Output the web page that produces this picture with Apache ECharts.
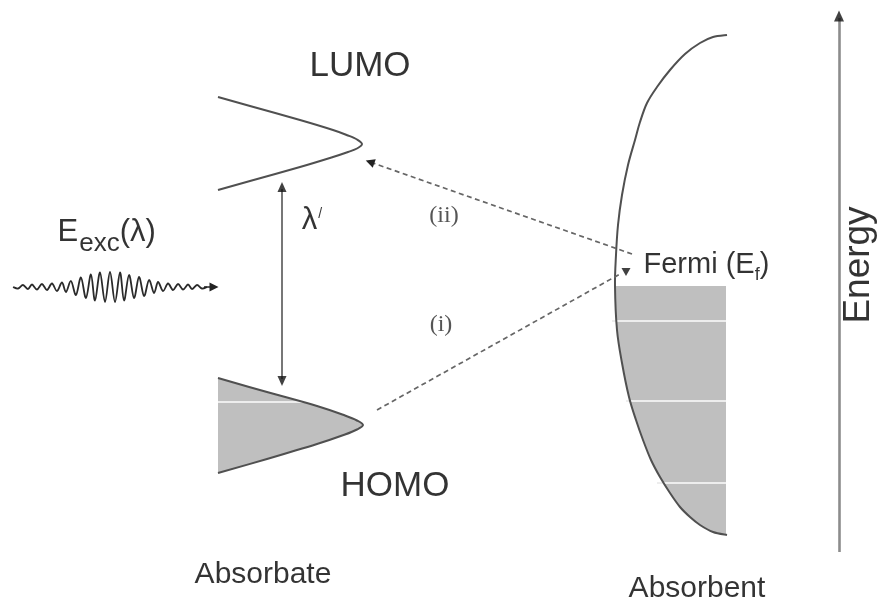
<!DOCTYPE html>
<html><head><meta charset="utf-8">
<script src="https://cdn.jsdelivr.net/npm/echarts@6/dist/echarts.min.js"></script>
<style>html,body{margin:0;padding:0;background:#fff}#c{width:879px;height:601px}</style>
</head><body><div id="c"></div>
<script>
// ---- Diagram geometry (values in the diagram's own x/y units) ----
const lumoCurve = [[218,97],[250,106],[300,120],[333,130],[348,135.5],[357,139.5],[362,144],[357,148.5],[348,152],[333,157],[300,167],[250,181],[218,190]];
const homoCurve = [[218,378],[267,392],[317,406],[345,415.5],[357,420.5],[363,425],[357,429.5],[345,434.5],[317,444],[267,459],[218,473]];
const homoEdge = [[218,473],[218,378]];
const homoStripes = [[[218,402],[303,402]]];
const absorbentCurve = [[727,35],[713,37],[700,43],[685,54],[670,70],[657,87],[647,103],[640,122],[635,140],[628,165],[622,195],[618,225],[616,255],[615,286],[617,330],[622,363],[629,397],[636,420],[643,440],[651,460],[660,477],[670,493],[680,507],[690,517],[700,525],[713,532],[727,535]];
const fermiLevel = 286;
const absorbentRight = 726;
const absorbentStripes = [[[612,321],[726,321]],[[626,401],[726,401]],[[657,483],[726,483]]];
const transitionII = [[632,254],[370,162]];
const transitionI = [[377,410],[620,274]];
const fermiMarker = [626,272];
const gapArrow = [[282,189],[282,379]];
const gapHeads = [[282,187,0],[282,381,180]];
const energyAxis = [[839,552],[839,18]];
const energyHead = [839,16];
const waveX = [13,18,23,28,32,37,42,47,52,57,62,66,71,76,81,86,91,95,100,105,110,115,120,124,129,134,139,144,149,154,158,163,168,173,178,183,188,192,197,202,207];
const waveAmp = [0,1.5,2,2,2.5,2.5,3,3,3.5,4,4.5,5,6,8,9.5,11,12.5,13.5,14.5,15,15,15,14.5,13.5,12,11,10,9,7,6,5,4,3.5,3,3,2.5,2.5,2,2,1.5,0];
const waveBase = 287;
const waveArrow = [[204,287],[214,287]];
const textItems = [
  ['LUMO', 360, 66],
  ['HOMO', 395, 486],
  ['Absorbate', 263, 575],
  ['Absorbent', 697, 589],
  ['Energy', 859, 265],
  ['(ii)', 444, 216],
  ['(i)', 441, 325],
  ['lambda', 312, 220],
  ['Eexc', 58, 217],
  ['Fermi', 644, 251]
];

// ---- styles ----
const INK = '#505050';
const FILL = '#bfbfbf';
const sans = 'Liberation Sans, Arial, sans-serif';
const serif = 'Liberation Serif, Times New Roman, serif';
const labelStyles = {
  'LUMO': {fontSize:35},
  'HOMO': {fontSize:35},
  'Absorbate': {fontSize:30},
  'Absorbent': {fontSize:30},
  'Energy': {fontSize:37, rotate:90},
  '(ii)': {fontSize:24, fontFamily:serif, color:'#2a2a2a'},
  '(i)': {fontSize:24, fontFamily:serif, color:'#2a2a2a'},
  'lambda': {formatter:'{l|λ}{s|/}', rich:{l:{fontSize:31, lineHeight:31, verticalAlign:'top', color:'#000'}, s:{fontSize:14, lineHeight:22, verticalAlign:'top', padding:[3,0,0,1], color:'#000'}}},
  'Eexc': {formatter:'{a|E}{b|exc}{a|(λ)}', position:[0,0], align:'left', verticalAlign:'top',
           rich:{a:{fontSize:31, lineHeight:31, verticalAlign:'top', color:'#000'}, b:{fontSize:26, lineHeight:26, padding:[14,0,0,1], verticalAlign:'top', color:'#000'}}},
  'Fermi': {formatter:'{a|Fermi (E}{b|f}{a|)}', position:[0,0], align:'left', verticalAlign:'top',
           rich:{a:{fontSize:29, lineHeight:29, verticalAlign:'top', color:'#000'}, b:{fontSize:18, lineHeight:18, padding:[16,0,0,0], verticalAlign:'top', color:'#000'}}}
};

function smoothPath(pts) {
  let d = 'M ' + pts[0][0] + ' ' + pts[0][1];
  for (let i = 0; i < pts.length - 1; i++) {
    const p0 = pts[i-1] || pts[i], p1 = pts[i], p2 = pts[i+1], p3 = pts[i+2] || pts[i+1];
    const c1x = p1[0] + (p2[0]-p0[0])/6, c1y = p1[1] + (p2[1]-p0[1])/6;
    const c2x = p2[0] - (p3[0]-p1[0])/6, c2y = p2[1] - (p3[1]-p1[1])/6;
    d += ' C ' + c1x + ' ' + c1y + ' ' + c2x + ' ' + c2y + ' ' + p2[0] + ' ' + p2[1];
  }
  return d;
}
function shapeSeries(points, opt) {
  return {
    type:'custom', coordinateSystem:'cartesian2d', silent:true, animation:false,
    data:[[0,0]], z: opt.z || 2,
    renderItem: function (params, api) {
      const px = points.map(function (p) { return api.coord(p); });
      let d = smoothPath(px);
      if (opt.close) {
        opt.close.forEach(function (p) { const c = api.coord(p); d += ' L ' + c[0] + ' ' + c[1]; });
        d += ' Z';
      }
      return {type:'path', shape:{pathData:d}, style:{fill: opt.fill || 'none', stroke: opt.stroke || 'none', lineWidth: opt.lineWidth || 0, lineJoin:'round'}};
    }
  };
}
function linesSeries(segments, lineStyle, symbol, symbolSize, z) {
  return {type:'lines', coordinateSystem:'cartesian2d', silent:true, animation:false, z: z || 3,
    data: segments.map(function (s) { return {coords: s}; }),
    lineStyle: lineStyle, symbol: symbol || 'none', symbolSize: symbolSize || 0};
}

const wavePoints = waveX.map(function (x, i) { return [x, waveBase + (i % 2 === 0 ? -1 : 1) * waveAmp[i]]; });
const absorbentFill = absorbentCurve.filter(function (p) { return p[1] >= fermiLevel; });

const chart = echarts.init(document.getElementById('c'), null, {renderer:'canvas'});
chart.setOption({
  animation:false,
  backgroundColor:'#ffffff',
  grid:{left:0, right:0, top:0, bottom:0},
  xAxis:{type:'value', min:0, max:879, show:false},
  yAxis:{type:'value', min:0, max:601, inverse:true, show:false},
  series:[
    shapeSeries(homoCurve, {fill:FILL, close:[homoEdge[1]], z:1}),
    shapeSeries(absorbentFill, {fill:FILL, close:[[absorbentRight, absorbentFill[absorbentFill.length-1][1]], [absorbentRight, fermiLevel]], z:1}),
    linesSeries(homoStripes.concat(absorbentStripes), {color:'#ededed', width:2, opacity:1}, 'none', 0, 2),
    shapeSeries(lumoCurve, {stroke:INK, lineWidth:2, z:3}),
    shapeSeries(homoCurve, {stroke:INK, lineWidth:2, z:3}),
    shapeSeries(absorbentCurve, {stroke:INK, lineWidth:2, z:3}),
    shapeSeries(wavePoints, {stroke:'#2a2a2a', lineWidth:1.8, z:3}),
    linesSeries([transitionII, transitionI], {color:'#666', width:1.7, type:[5,3.5], opacity:1}, 'none', 0, 4),
    linesSeries([transitionII], {color:'#222', width:0, opacity:1}, ['none','triangle'], [0,9], 4),
    linesSeries([gapArrow], {color:'#777', width:2, opacity:1}, 'none', 0, 4),
    linesSeries([energyAxis], {color:'#8c8c8c', width:2.6, opacity:1}, 'none', 0, 4),
    linesSeries([waveArrow], {color:'#222', width:1.5, opacity:1}, ['none','triangle'], [0,9], 4),
    {type:'scatter', silent:true, z:5, symbol:'triangle',
      data:[{value:fermiMarker, symbolRotate:180, symbolSize:[9,8]},
            {value:[gapHeads[0][0],gapHeads[0][1]], symbolRotate:gapHeads[0][2], symbolSize:[9,10]},
            {value:[gapHeads[1][0],gapHeads[1][1]], symbolRotate:gapHeads[1][2], symbolSize:[9,10]},
            {value:energyHead, symbolRotate:0, symbolSize:[10,11]}],
      itemStyle:{color:'#111'}},
    {type:'scatter', silent:true, z:6, symbolSize:1, itemStyle:{color:'rgba(0,0,0,0)'},
      data: textItems.map(function (t) {
        const st = labelStyles[t[0]] || {};
        const label = Object.assign({show:true, position:'inside', formatter:t[0], fontFamily:sans, fontSize:28, color:'#000', align:'center', verticalAlign:'middle'}, st);
        return {value:[t[1], t[2]], label: label};
      })
    }
  ]
});
</script>
</body></html>
